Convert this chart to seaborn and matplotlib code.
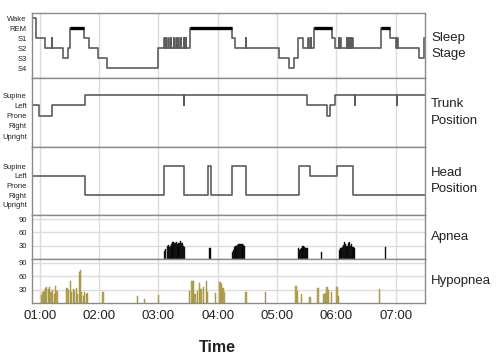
import matplotlib
matplotlib.use("Agg")
import matplotlib.pyplot as plt
import seaborn as sns
import pandas as pd

# ---- data (hours since midnight) ----
hour_ticks = [1, 2, 3, 4, 5, 6, 7]
hour_labels = ['01:00', '02:00', '03:00', '04:00', '05:00', '06:00', '07:00']
x_range = (0.865, 7.49)

stage_names = ['S4', 'S3', 'S2', 'S1', 'REM', 'Wake']
sleep_t = [0.865, 0.94, 1.09, 1.20, 1.21, 1.39, 1.47, 1.52, 1.75, 1.84, 1.99, 2.13, 3.00,
           3.10, 3.107, 3.13, 3.137, 3.17, 3.177, 3.21, 3.217, 3.26, 3.267, 3.30, 3.307,
           3.34, 3.347, 3.38, 3.387, 3.43, 3.437, 3.46, 3.467,
           3.54, 4.24, 4.29, 4.47, 4.477, 5.03, 5.21, 5.29, 5.36, 5.44, 5.53, 5.537, 5.57, 5.577,
           5.62, 5.93, 5.98, 6.04, 6.047, 6.07, 6.077, 6.18, 6.187, 6.21, 6.217, 6.24, 6.247,
           6.27, 6.277, 6.75, 6.91, 7.01, 7.03, 7.037, 7.39, 7.47, 7.49]
sleep_s = ['Wake', 'S1', 'S2', 'S1', 'S2', 'S3', 'S2', 'REM', 'S1', 'S2', 'S3', 'S4', 'S2',
           'S1', 'S2', 'S1', 'S2', 'S1', 'S2', 'S1', 'S2', 'S1', 'S2', 'S1', 'S2',
           'S1', 'S2', 'S1', 'S2', 'S1', 'S2', 'S1', 'S2',
           'REM', 'S1', 'S2', 'S1', 'S2', 'S3', 'S4', 'S3', 'S1', 'S2', 'S1', 'S2', 'S1', 'S2',
           'REM', 'S1', 'S2', 'S1', 'S2', 'S1', 'S2', 'S1', 'S2', 'S1', 'S2', 'S1', 'S2',
           'S1', 'S2', 'REM', 'S1', 'S2', 'S1', 'S2', 'S3', 'S1', 'S1']

pos_names = ['Upright', 'Right', 'Prone', 'Left', 'Supine']
trunk_t = [0.865, 0.872, 0.985, 1.20, 1.76, 3.43, 3.437, 5.51, 5.84, 5.90, 5.98,
           6.31, 6.317, 7.02, 7.027, 7.49]
trunk_s = ['Right', 'Left', 'Prone', 'Left', 'Supine', 'Left', 'Supine', 'Left', 'Prone', 'Left',
           'Supine', 'Left', 'Supine', 'Left', 'Supine', 'Supine']

head_t = [0.865, 1.76, 3.10, 3.44, 3.84, 3.89, 4.24, 4.47, 5.37, 5.55, 6.01, 6.29, 7.49]
head_s = ['Left', 'Right', 'Supine', 'Right', 'Supine', 'Right', 'Supine', 'Right', 'Supine',
          'Left', 'Supine', 'Right', 'Right']

apnea_t = [3.10, 3.12, 3.15, 3.17, 3.19, 3.21, 3.23, 3.25, 3.27, 3.29, 3.31, 3.33, 3.35, 3.37,
           3.39, 3.41, 3.43, 3.44, 3.87,
           4.25, 4.27, 4.29, 4.31, 4.33, 4.35, 4.37, 4.39, 4.41, 4.43, 4.45,
           5.36, 5.38, 5.40, 5.42, 5.44, 5.47, 5.49, 5.52, 5.75,
           6.06, 6.08, 6.10, 6.12, 6.14, 6.16, 6.18, 6.20, 6.22, 6.24, 6.26, 6.28, 6.30, 6.83]
apnea_v = [19, 22, 30, 32, 28, 30, 33, 39, 35, 37, 38, 34, 36, 40,
           36, 35, 30, 28, 24,
           15, 21, 26, 30, 32, 33, 34, 34, 33, 32, 30,
           24, 20, 22, 24, 30, 28, 25, 24, 15,
           21, 24, 28, 32, 39, 34, 30, 36, 38, 30, 34, 28, 24, 26]

hypo_t = [1.04, 1.06, 1.08, 1.10, 1.12, 1.15, 1.17, 1.19, 1.22, 1.25, 1.27, 1.29,
          1.46, 1.48, 1.52, 1.54, 1.57, 1.59, 1.62, 1.64, 1.67, 1.69, 1.71, 1.74, 1.76, 1.79, 1.81,
          2.07, 2.65, 2.77, 3.00,
          3.53, 3.57, 3.59, 3.62, 3.66, 3.69, 3.72, 3.76, 3.81, 3.83, 3.96,
          4.04, 4.07, 4.09, 4.11, 4.48, 4.81, 5.32, 5.35, 5.41, 5.56, 5.69, 5.79, 5.83, 5.84,
          5.87, 5.92, 6.01, 6.04, 6.73]
hypo_v = [18, 24, 28, 33, 37, 31, 35, 24, 30, 20, 39, 28,
          33, 30, 50, 24, 31, 28, 33, 20, 69, 75, 24, 16, 25, 20, 22,
          24, 16, 10, 18,
          28, 50, 50, 20, 28, 45, 31, 35, 50, 24, 22,
          48, 43, 33, 25, 24, 25, 39, 28, 20, 14, 34, 20, 22, 35,
          30, 24, 35, 15, 31]

# ---- style ----
sns.set_theme(style="white")
plt.rcParams['font.family'] = ['Liberation Sans', 'DejaVu Sans']

line_col = '#5c5c5c'
grid_col = '#dcdcdc'
frame_col = '#8a8a8a'
hypo_col = '#b9a750'

fig = plt.figure(figsize=(5.02, 3.62), dpi=100)
gs = fig.add_gridspec(5, 1, height_ratios=[65, 69, 68, 44, 44], hspace=0,
                      left=0.063, right=0.846, top=0.964, bottom=0.163)
axes = [fig.add_subplot(gs[i]) for i in range(5)]


def style_axis(ax, yticks, ylabels, ylim, hgrid=False):
    ax.set_xlim(*x_range)
    ax.set_ylim(*ylim)
    ax.set_xticks(hour_ticks)
    ax.set_yticks(yticks)
    ax.set_yticklabels(ylabels, fontsize=5.5, color='#222222')
    ax.tick_params(axis='both', length=0, pad=3.5)
    ax.grid(axis='x', color=grid_col, lw=1)
    if hgrid:
        ax.grid(axis='y', color=grid_col, lw=1)
    ax.set_axisbelow(True)
    for sp in ax.spines.values():
        sp.set_color(frame_col)
        sp.set_linewidth(1)
    ax.set_xlabel('')
    ax.set_ylabel('')


def step_panel(ax, t, s, names):
    df = pd.DataFrame({'t': t, 'v': [names.index(n) for n in s]})
    sns.lineplot(data=df, x='t', y='v', ax=ax, drawstyle='steps-post', color=line_col,
                 lw=1.2, sort=False, estimator=None)
    return df


# Sleep stage
sd = step_panel(axes[0], sleep_t, sleep_s, stage_names)
rem = stage_names.index('REM')
for i in range(len(sd) - 1):
    if sd.v[i] == rem:
        axes[0].hlines(rem + 0.08, sd.t[i], sd.t[i + 1], color='black', lw=2.4)
style_axis(axes[0], range(6), stage_names, (-0.97, 5.53))

# Trunk and head position
step_panel(axes[1], trunk_t, trunk_s, pos_names)
style_axis(axes[1], range(5), pos_names, (-1.07, 5.66))
step_panel(axes[2], head_t, head_s, pos_names)
style_axis(axes[2], range(5), pos_names, (-1.04, 6.0))

# Apnea / hypopnea events
axes[3].bar(apnea_t, apnea_v, width=0.022, color='black', edgecolor='#222222', lw=0.3)
style_axis(axes[3], [30, 60, 90], ['30', '60', '90'], (0, 99), hgrid=True)
axes[4].bar(hypo_t, hypo_v, width=0.024, color=hypo_col, edgecolor='#9c8b38', lw=0.3)
style_axis(axes[4], [30, 60, 90], ['30', '60', '90'], (0, 99), hgrid=True)

for ax in axes[:4]:
    ax.set_xticklabels([])
axes[4].set_xticklabels(hour_labels, fontsize=9.5, color='#222222')
axes[4].tick_params(axis='x', pad=5)

panel_titles = ['Sleep\nStage', 'Trunk\nPosition', 'Head\nPosition', 'Apnea', 'Hypopnea']
for ax, title in zip(axes, panel_titles):
    ax.text(1.0165, 0.5, title, transform=ax.transAxes, ha='left', va='center',
            fontsize=9.5, color='#222222', linespacing=1.45)

fig.text(0.433, 0.041, 'Time', ha='center', va='center', fontsize=11.5,
         fontweight='bold', color='#222222')

fig.savefig('out.png', dpi=100)
